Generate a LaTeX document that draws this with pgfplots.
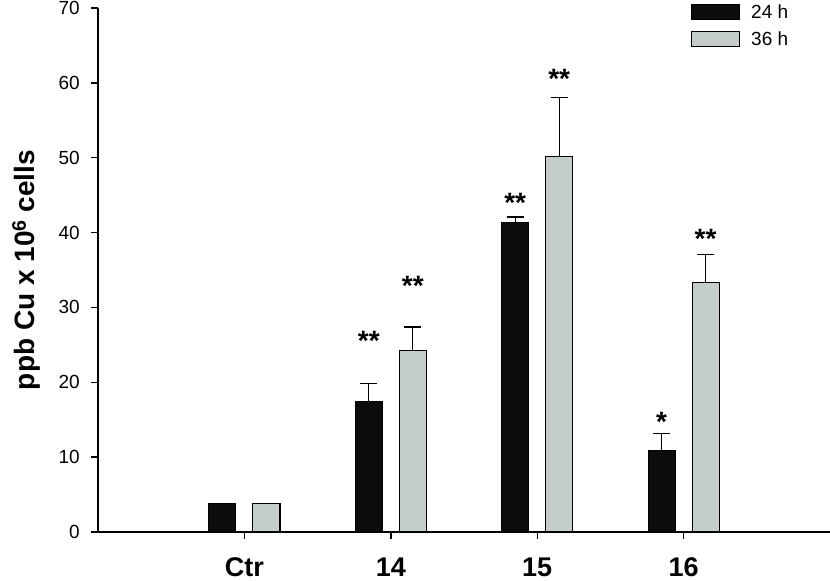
\documentclass[border=0pt]{standalone}
\usepackage{fontspec}
\setmainfont{Liberation Sans}
\newfontfamily\regfont[Scale=1.9]{Liberation Sans}
\usepackage{pgfplots}
\pgfplotsset{compat=1.18}
\definecolor{barblack}{RGB}{11,13,11}
\definecolor{bargrey}{RGB}{197,205,203}
\newcommand\xlabfont{\normalfont\bfseries\fontsize{27}{32}\selectfont}
\newcommand\ylabfont{\normalfont\bfseries\fontsize{28}{33}\selectfont}
\newcommand\sigfont{\normalfont\bfseries\fontsize{28}{33}\selectfont}
\pgfplotsset{legbox/.style={legend image code/.code={\draw[#1] (0pt,-7.5pt) rectangle (48pt,7.5pt);}}}
\tikzset{sig/.style={font=\sigfont, anchor=base, yshift=-15.5pt, inner sep=0pt}}
\begin{document}
\begin{tikzpicture}
\path[use as bounding box] (-98pt,-49pt) rectangle (732pt,532pt);
\begin{axis}[
  at={(0pt,0pt)}, anchor=south west,
  width=732pt, height=524pt, scale only axis,
  xmin=0, xmax=5, ymin=0, ymax=70,
  axis lines*=left,
  axis line style={line width=1.4pt, black},
  ytick={0,10,...,70},
  yticklabels={{\regfont 0},{\regfont 10},{\regfont 20},{\regfont 30},{\regfont 40},{\regfont 50},{\regfont 60},{\regfont 70}},
  xtick={1,2,3,4},
  xticklabels={Ctr,14,15,16},
  tick style={line width=1.4pt, black},
  tick align=outside,
  major tick length=7pt,
  minor tick num=0,
  yticklabel style={anchor=east, inner sep=0pt, xshift=-11pt},
  xticklabel style={font=\xlabfont, anchor=base, inner sep=0pt, yshift=-37pt},
  ylabel={ppb Cu x 10\textsuperscript{6} cells},
  ylabel style={font=\ylabfont, at={(axis description cs:-0.0861,0.5)}, anchor=base},
  ybar=17pt, bar width=27pt,
  legend style={at={(rel axis cs:0,1)}, anchor=north west, xshift=593pt, yshift=4pt,
    draw=none, fill=none, inner sep=0pt, outer sep=0pt, row sep=11pt, column sep=11pt,
    nodes={inner sep=0pt, text depth=0.15em}, cells={anchor=west}},
]
\addplot[fill=barblack, draw=black, line width=1.2pt, legbox,
  error bars/y dir=plus, error bars/y explicit,
  error bars/error bar style={line width=1.3pt, black},
  error bars/error mark options={rotate=90, mark size=8.5pt, line width=1.3pt, black}]
  coordinates {(1,3.8) +- (0,0) (2,17.4) +- (0,2.4) (3,41.3) +- (0,0.8) (4,10.9) +- (0,2.3)};
\addlegendentry{\regfont 24 h}
\addplot[fill=bargrey, draw=black, line width=1.2pt, legbox,
  error bars/y dir=plus, error bars/y explicit,
  error bars/error bar style={line width=1.3pt, black},
  error bars/error mark options={rotate=90, mark size=8.5pt, line width=1.3pt, black}]
  coordinates {(1,3.8) +- (0,0) (2,24.2) +- (0,3.2) (3,50.2) +- (0,7.8) (4,33.35) +- (0,3.75)};
\addlegendentry{\regfont 36 h}
\node[sig] at (axis cs:1.85,26.3) {**};
\node[sig] at (axis cs:2.15,33.66) {**};
\node[sig] at (axis cs:2.85,44.79) {**};
\node[sig] at (axis cs:3.15,61.36) {**};
\node[sig] at (axis cs:3.85,15.5) {*};
\node[sig] at (axis cs:4.15,39.98) {**};
\end{axis}
\end{tikzpicture}
\end{document}
